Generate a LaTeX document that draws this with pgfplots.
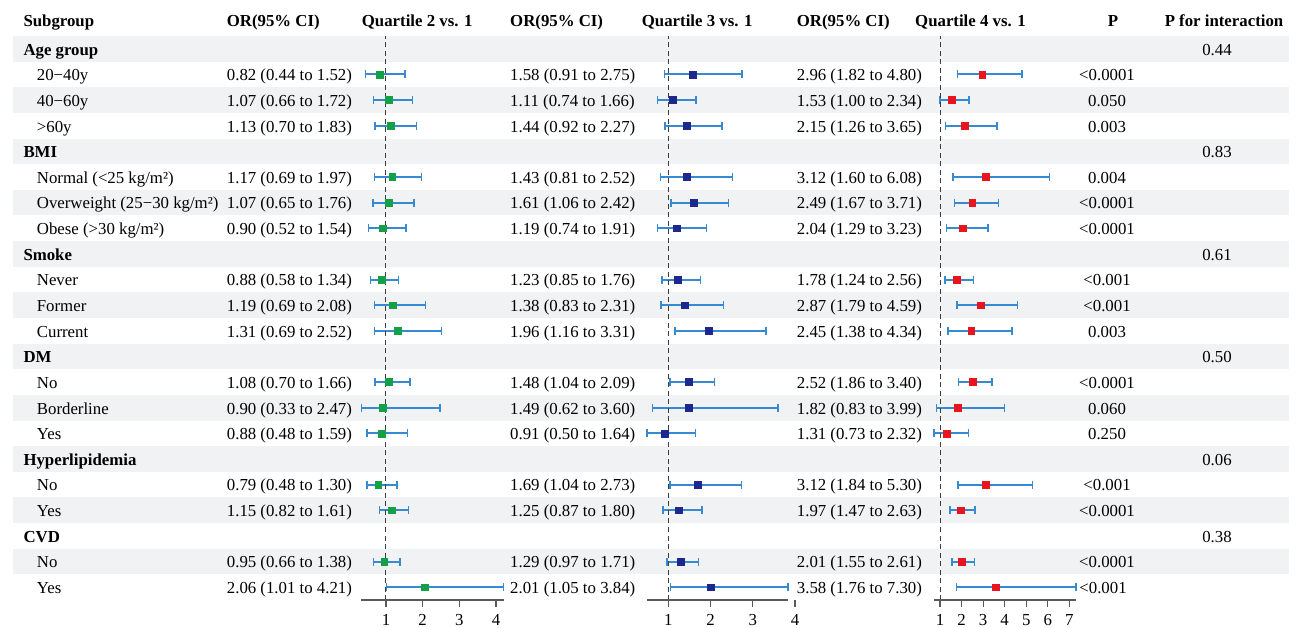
\documentclass[border=0pt]{standalone}
\usepackage{fontspec}
\setmainfont{Liberation Serif}
\usepackage{pgfplots}
\usepackage{pgfplotstable}
\pgfplotsset{compat=1.18}
\definecolor{stripe}{RGB}{241,242,244}
\definecolor{cicol}{RGB}{55,138,210}
\definecolor{qgreen}{RGB}{20,160,70}
\definecolor{qnavy}{RGB}{30,40,140}
\definecolor{qred}{RGB}{232,20,30}
\definecolor{axcol}{RGB}{90,90,90}
\definecolor{refcol}{RGB}{60,60,60}

\pgfplotstableread{
p or lo hi
21 0.82 0.44 1.52
20 1.07 0.66 1.72
19 1.13 0.70 1.83
17 1.17 0.69 1.97
16 1.07 0.65 1.76
15 0.90 0.52 1.54
13 0.88 0.58 1.34
12 1.19 0.69 2.08
11 1.31 0.69 2.52
9  1.08 0.70 1.66
8  0.90 0.33 2.47
7  0.88 0.48 1.59
5  0.79 0.48 1.30
4  1.15 0.82 1.61
2  0.95 0.66 1.38
1  2.06 1.01 4.21
}\qtwo
\pgfplotstableread{
p or lo hi
21 1.58 0.91 2.75
20 1.11 0.74 1.66
19 1.44 0.92 2.27
17 1.43 0.81 2.52
16 1.61 1.06 2.42
15 1.19 0.74 1.91
13 1.23 0.85 1.76
12 1.38 0.83 2.31
11 1.96 1.16 3.31
9  1.48 1.04 2.09
8  1.49 0.62 3.60
7  0.91 0.50 1.64
5  1.69 1.04 2.73
4  1.25 0.87 1.80
2  1.29 0.97 1.71
1  2.01 1.05 3.84
}\qthree
\pgfplotstableread{
p or lo hi
21 2.96 1.82 4.80
20 1.53 1.00 2.34
19 2.15 1.26 3.65
17 3.12 1.60 6.08
16 2.49 1.67 3.71
15 2.04 1.29 3.23
13 1.78 1.24 2.56
12 2.87 1.79 4.59
11 2.45 1.38 4.34
9  2.52 1.86 3.40
8  1.82 0.83 3.99
7  1.31 0.73 2.32
5  3.12 1.84 5.30
4  1.97 1.47 2.63
2  2.01 1.55 2.61
1  3.58 1.76 7.30
}\qfour

\pgfplotsset{
  panel/.style={anchor=south west, scale only axis, height=564pt, ymin=0.5, ymax=22.5,
    axis y line=none, axis x line*=bottom, x axis line style={draw=none},
    tick align=outside, major tick length=7pt, tick style={axcol, line width=1.2pt},
    clip=false, xticklabel style={font=\fontsize{16.8}{20}\selectfont, inner sep=2pt, yshift=-5pt},
    /pgf/number format/assume math mode=true},
}
\newcommand{\forest}[4]{%
  \addplot[only marks, mark=none, line width=2pt, draw=cicol,
    error bars/.cd, x dir=both, x explicit,
    error bar style={draw=cicol, line width=2pt, solid},
    error mark options={rotate=90, draw=cicol, line width=1.5pt, mark size=4pt}]
    table[x=or, y=p, x error plus expr=\thisrow{hi}-\thisrow{or},
          x error minus expr=\thisrow{or}-\thisrow{lo}] {#1};
  \draw[refcol, line width=1pt, dash pattern=on 5pt off 3.5pt] (axis cs:1,0.5) -- (axis cs:1,22.5);
  \draw[axcol, line width=1.2pt] (axis cs:#3,0.5) -- (axis cs:#4,0.5);
  \addplot[only marks, mark=square*, mark size=3.4pt, mark options={fill=#2, draw=#2}]
    table[x=or, y=p] {#1};
}
\newcommand{\datarow}[6]{%
  \node[txt] at (axis cs:36.7,#1) {#2};
  \node[txt] at (axis cs:226.7,#1) {#3};
  \node[txt] at (axis cs:510,#1) {#4};
  \node[txt] at (axis cs:796.7,#1) {#5};
  \node[txtc] at (axis cs:1107,#1) {#6};
}
\newcommand{\grouprow}[3]{%
  \node[txtb] at (axis cs:23.3,#1) {#2};
  \node[txtc] at (axis cs:1217,#1) {#3};
}

\begin{document}
\begin{tikzpicture}[font=\fontsize{16.8}{20}\selectfont,
  txt/.style={anchor=west, inner sep=0pt, text height=0.66em, text depth=0pt, yshift=-3pt},
  txtb/.style={txt, font=\fontsize{16.8}{20}\selectfont\bfseries},
  txtc/.style={anchor=center, inner sep=0pt, text height=0.66em, text depth=0pt, yshift=-3pt}]
\useasboundingbox (0,0) rectangle (1296pt,627pt);

\begin{axis}[at={(0pt,27pt)}, anchor=south west, scale only axis, width=1296pt, height=564pt,
  xmin=0, xmax=1296, ymin=0.5, ymax=22.5, hide axis, clip=false]
\fill[stripe] (axis cs:13,21.5) rectangle (axis cs:1289,22.5);
\fill[stripe] (axis cs:13,19.5) rectangle (axis cs:1289,20.5);
\fill[stripe] (axis cs:13,17.5) rectangle (axis cs:1289,18.5);
\fill[stripe] (axis cs:13,15.5) rectangle (axis cs:1289,16.5);
\fill[stripe] (axis cs:13,13.5) rectangle (axis cs:1289,14.5);
\fill[stripe] (axis cs:13,11.5) rectangle (axis cs:1289,12.5);
\fill[stripe] (axis cs:13,9.5) rectangle (axis cs:1289,10.5);
\fill[stripe] (axis cs:13,7.5) rectangle (axis cs:1289,8.5);
\fill[stripe] (axis cs:13,5.5) rectangle (axis cs:1289,6.5);
\fill[stripe] (axis cs:13,3.5) rectangle (axis cs:1289,4.5);
\fill[stripe] (axis cs:13,1.5) rectangle (axis cs:1289,2.5);
% header
\node[txtb] at (axis cs:23.3,23.12) {Subgroup};
\node[txtb] at (axis cs:226.7,23.12) {OR(95\% CI)};
\node[txtb] at (axis cs:361.7,23.12) {Quartile 2 vs. 1};
\node[txtb] at (axis cs:510,23.12) {OR(95\% CI)};
\node[txtb] at (axis cs:641.7,23.12) {Quartile 3 vs. 1};
\node[txtb] at (axis cs:796.7,23.12) {OR(95\% CI)};
\node[txtb] at (axis cs:915,23.12) {Quartile 4 vs. 1};
\node[txtc, font=\fontsize{16.8}{20}\selectfont\bfseries] at (axis cs:1113,23.12) {P};
\node[txtc, font=\fontsize{16.8}{20}\selectfont\bfseries] at (axis cs:1224,23.12) {P for interaction};
% rows
\grouprow{22}{Age group}{0.44}
\datarow{21}{20−40y}{0.82 (0.44 to 1.52)}{1.58 (0.91 to 2.75)}{2.96 (1.82 to 4.80)}{<0.0001}
\datarow{20}{40−60y}{1.07 (0.66 to 1.72)}{1.11 (0.74 to 1.66)}{1.53 (1.00 to 2.34)}{0.050}
\datarow{19}{>60y}{1.13 (0.70 to 1.83)}{1.44 (0.92 to 2.27)}{2.15 (1.26 to 3.65)}{0.003}
\grouprow{18}{BMI}{0.83}
\datarow{17}{Normal (<25 kg/m²)}{1.17 (0.69 to 1.97)}{1.43 (0.81 to 2.52)}{3.12 (1.60 to 6.08)}{0.004}
\datarow{16}{Overweight (25−30 kg/m²)}{1.07 (0.65 to 1.76)}{1.61 (1.06 to 2.42)}{2.49 (1.67 to 3.71)}{<0.0001}
\datarow{15}{Obese (>30 kg/m²)}{0.90 (0.52 to 1.54)}{1.19 (0.74 to 1.91)}{2.04 (1.29 to 3.23)}{<0.0001}
\grouprow{14}{Smoke}{0.61}
\datarow{13}{Never}{0.88 (0.58 to 1.34)}{1.23 (0.85 to 1.76)}{1.78 (1.24 to 2.56)}{<0.001}
\datarow{12}{Former}{1.19 (0.69 to 2.08)}{1.38 (0.83 to 2.31)}{2.87 (1.79 to 4.59)}{<0.001}
\datarow{11}{Current}{1.31 (0.69 to 2.52)}{1.96 (1.16 to 3.31)}{2.45 (1.38 to 4.34)}{0.003}
\grouprow{10}{DM}{0.50}
\datarow{9}{No}{1.08 (0.70 to 1.66)}{1.48 (1.04 to 2.09)}{2.52 (1.86 to 3.40)}{<0.0001}
\datarow{8}{Borderline}{0.90 (0.33 to 2.47)}{1.49 (0.62 to 3.60)}{1.82 (0.83 to 3.99)}{0.060}
\datarow{7}{Yes}{0.88 (0.48 to 1.59)}{0.91 (0.50 to 1.64)}{1.31 (0.73 to 2.32)}{0.250}
\grouprow{6}{Hyperlipidemia}{0.06}
\datarow{5}{No}{0.79 (0.48 to 1.30)}{1.69 (1.04 to 2.73)}{3.12 (1.84 to 5.30)}{<0.001}
\datarow{4}{Yes}{1.15 (0.82 to 1.61)}{1.25 (0.87 to 1.80)}{1.97 (1.47 to 2.63)}{<0.0001}
\grouprow{3}{CVD}{0.38}
\datarow{2}{No}{0.95 (0.66 to 1.38)}{1.29 (0.97 to 1.71)}{2.01 (1.55 to 2.61)}{<0.0001}
\node[txt] at (axis cs:36.7,1) {Yes};
\node[txt] at (axis cs:226.7,1) {2.06 (1.01 to 4.21)};
\node[txt] at (axis cs:510,1) {2.01 (1.05 to 3.84)};
\node[txt] at (axis cs:796.7,1) {3.58 (1.76 to 7.30)};
\node[txtc] at (axis cs:1103,1) {<0.001};
\end{axis}

% Panel Q2 vs 1
\begin{axis}[panel, at={(361.4pt,27pt)}, width=142.3pt, xmin=0.33, xmax=4.21, xtick={1,2,3,4}]
\forest{\qtwo}{qgreen}{0.33}{4.21}
\end{axis}
% Panel Q3 vs 1
\begin{axis}[panel, at={(647.2pt,27pt)}, width=147.8pt, xmin=0.50, xmax=4.00, xtick={1,2,3,4}]
\forest{\qthree}{qnavy}{0.50}{3.84}
\end{axis}
% Panel Q4 vs 1
\begin{axis}[panel, at={(934.2pt,27pt)}, width=141.6pt, xmin=0.73, xmax=7.30, xtick={1,2,3,4,5,6,7}]
\forest{\qfour}{qred}{0.73}{7.30}
\end{axis}
\end{tikzpicture}
\end{document}
